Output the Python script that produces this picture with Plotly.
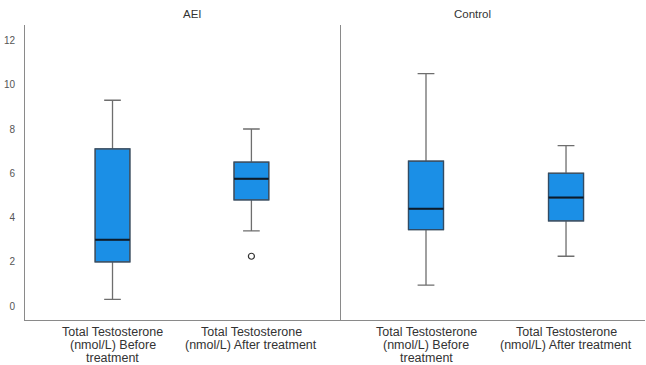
import plotly.graph_objects as go

# ---- data ----
groups = ["AEI", "Control"]
category_lines = [
    ["Total Testosterone", "(nmol/L) Before", "treatment"],
    ["Total Testosterone", "(nmol/L) After treatment"],
]
# per group: [before, after]
aei_lower = [0.3, 3.4]
aei_q1 = [2.0, 4.8]
aei_median = [3.0, 5.75]
aei_q3 = [7.1, 6.5]
aei_upper = [9.3, 8.0]
aei_outliers_after = [2.25]

ctl_lower = [0.95, 2.25]
ctl_q1 = [3.45, 3.85]
ctl_median = [4.4, 4.9]
ctl_q3 = [6.55, 6.0]
ctl_upper = [10.5, 7.25]

y_ticks = [0, 2, 4, 6, 8, 10, 12]

FILL = "#1B8FE6"
WHISK = "#6E6E6E"
MED = "#0B1B2B"

fig = go.Figure()

positions = [0, 1]
sets = [
    ("x", "y", aei_lower, aei_q1, aei_median, aei_q3, aei_upper),
    ("x2", "y2", ctl_lower, ctl_q1, ctl_median, ctl_q3, ctl_upper),
]
for xa, ya, lo, q1, md, q3, up in sets:
    fig.add_trace(go.Box(
        x=positions, q1=q1, median=md, q3=q3, lowerfence=lo, upperfence=up,
        xaxis=xa, yaxis=ya, width=0.25, whiskerwidth=0.48,
        fillcolor=FILL, line=dict(color=WHISK, width=1.3),
        boxpoints=False, showlegend=False, hoverinfo="skip"))
    # darker box border
    fig.add_trace(go.Box(
        x=positions, q1=q1, median=md, q3=q3, lowerfence=q1, upperfence=q3,
        xaxis=xa, yaxis=ya, width=0.25, whiskerwidth=0,
        fillcolor="rgba(0,0,0,0)", line=dict(color="#2F4B66", width=1.2),
        boxpoints=False, showlegend=False, hoverinfo="skip"))

# medians drawn on top
for xa, ya, lo, q1, md, q3, up in sets:
    fig.add_trace(go.Box(
        x=positions, q1=md, median=md, q3=md, lowerfence=md, upperfence=md,
        xaxis=xa, yaxis=ya, width=0.25, whiskerwidth=0,
        fillcolor="rgba(0,0,0,0)", line=dict(color=MED, width=2),
        boxpoints=False, showlegend=False, hoverinfo="skip"))

fig.add_trace(go.Scatter(
    x=[1] * len(aei_outliers_after), y=aei_outliers_after, xaxis="x", yaxis="y",
    mode="markers", marker=dict(symbol="circle-open", size=6, color="#333333",
                                line=dict(width=1.2)),
    showlegend=False, hoverinfo="skip"))

split = 316 / 620
yrange = [-0.63, 12.7]
FONT = "Liberation Sans, Arial, sans-serif"

annotations = [
    dict(text=groups[0], x=split / 2 - 0.003, y=1.0, xref="paper", yref="paper",
         yanchor="bottom", yshift=3, showarrow=False,
         font=dict(size=11.5, color="#333333")),
    dict(text=groups[1], x=(split + 1) / 2, y=1.0, xref="paper", yref="paper",
         yanchor="bottom", yshift=3, showarrow=False,
         font=dict(size=11.5, color="#333333")),
]
for xref in ["x", "x2"]:
    for pos, lines in zip(positions, category_lines):
        for i, line in enumerate(lines):
            annotations.append(dict(
                text=line, x=pos, xref=xref, y=0, yref="paper",
                yanchor="middle", yshift=-12 - 13 * i, showarrow=False,
                font=dict(family=FONT, size=12.5, color="#333333")))

axis_common = dict(showgrid=False, zeroline=False, showline=True,
                   linecolor="#8A8A8A", linewidth=1, ticks="", automargin=False)

fig.update_layout(
    width=646, height=365,
    margin=dict(l=25, r=1, t=25, b=45),
    paper_bgcolor="white", plot_bgcolor="white",
    font=dict(family=FONT, color="#333333"),
    xaxis=dict(domain=[0, split], range=[-0.63, 1.645], showticklabels=False,
               anchor="y", **axis_common),
    xaxis2=dict(domain=[split, 1], range=[-0.607, 1.564], showticklabels=False,
                anchor="y2", **axis_common),
    yaxis=dict(range=yrange, tickvals=y_ticks,
               tickfont=dict(size=10, color="#555555"), ticklabelstandoff=7,
               anchor="x", **axis_common),
    yaxis2=dict(range=yrange, matches="y", showticklabels=False, anchor="x2",
                **axis_common),
    annotations=annotations,
)

fig.write_html("out.html",
               config={"displayModeBar": False},
               post_script="document.body.style.margin='0';"
                           "document.body.style.overflow='hidden';")
